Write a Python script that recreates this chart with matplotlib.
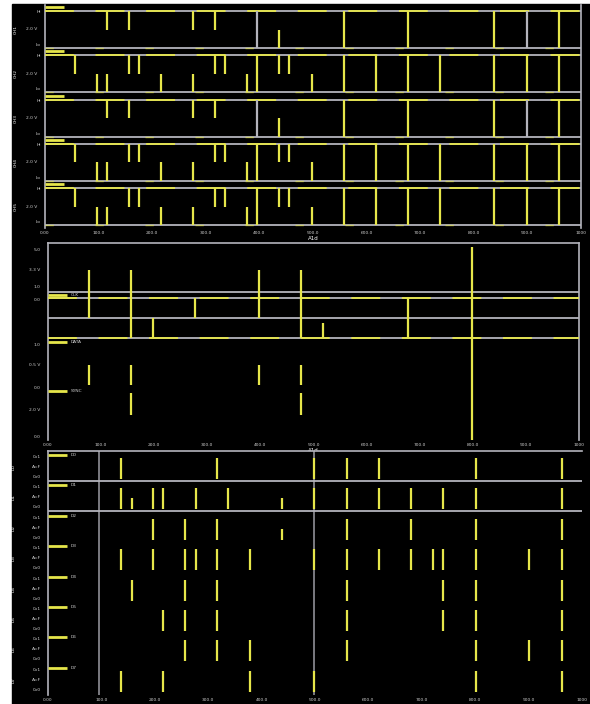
import matplotlib
matplotlib.use("Agg")
import matplotlib.pyplot as plt
from matplotlib.patches import Rectangle

# ---------------- data ----------------
# time axis ticks (shared by all panels)
tick_pos = [0, 10, 20, 30, 40, 50, 60, 70, 80, 90, 100]
tick_labels = ["0.00", "100.0", "200.0", "300.0", "400.0", "500.0",
               "600.0", "700.0", "800.0", "900.0", "1000"]

# panel 1: two edge patterns, rows use them
patA_top = [11.6, 15.7, 27.6, 31.7]
patA_low = [43.7]
patA_full = [39.6, 55.8, 67.7, 83.8, 89.9, 95.9]
patB_top = [5.6, 15.7, 17.5, 31.7, 33.6, 43.7, 45.5]
patB_low = [9.7, 11.6, 21.6, 27.6, 37.7, 49.8]
patB_full = [39.6, 55.8, 61.8, 67.7, 73.7, 83.8, 89.9, 95.9]
p1_rows = ["A", "B", "A", "B", "B"]
p1_names = ["CH1", "CH2", "CH3", "CH4", "CH5"]

# panel 2 events
p2_times = [8.2, 16.0, 20.1, 28.0, 39.9, 47.8, 51.9, 67.7, 79.7]
p2_kinds = ["a", "b", "c", "d", "a", "b", "e", "f", "g"]
p2_lower = [1, 2, 0, 0, 1, 2, 0, 0, 0]
p2_names = ["CLK", "DATA", "SYNC"]

# panel 3 events per row (long pulses) and short pulses
p3_rows = [
    [14.2, 32.1, 50.2, 56.3, 62.3, 80.4, 96.5],
    [14.2, 20.1, 22.0, 28.2, 34.1, 50.2, 56.3, 62.3, 68.3, 74.3, 80.4, 96.5],
    [20.1, 26.1, 32.1, 56.3, 68.3, 80.4, 96.5],
    [14.2, 20.1, 26.1, 28.2, 32.1, 38.2, 50.2, 56.3, 62.3, 68.3, 72.4, 74.3, 80.4, 90.3, 96.5],
    [16.2, 26.1, 32.1, 56.3, 74.3, 80.4, 96.5],
    [22.0, 26.1, 32.1, 56.3, 74.3, 80.4, 96.5],
    [26.1, 32.1, 38.2, 56.3, 80.4, 90.3, 96.5],
    [14.2, 22.0, 38.2, 50.2, 80.4, 96.5],
]
p3_short = [[], [16.2, 44.2], [44.2], [], [], [], [], []]
p3_markers = [10.1, 50.2]
p3_names = ["D0", "D1", "D2", "D3", "D4", "D5", "D6", "D7"]

# ---------------- style ----------------
YEL = "#e6e64a"
GRY = "#b4b4bc"
TXT = "#d0d0d0"
FS = 3.2

fig = plt.figure(figsize=(5.9, 7.04), dpi=100, facecolor="white")
fig.patches.append(Rectangle((12 / 590, 0), 1 - 12 / 590, 1 - 4 / 704,
                             transform=fig.transFigure, color="black", zorder=-10))


def make_ax(top_px, bot_px, left_px=45, right_px=581):
    ax = fig.add_axes([left_px / 590, 1 - bot_px / 704,
                       (right_px - left_px) / 590, (bot_px - top_px) / 704])
    ax.set_facecolor("black")
    ax.set_xlim((left_px - 45) / 5.36, (right_px - 45) / 5.36)
    ax.set_ylim(bot_px, top_px)
    for s in ax.spines.values():
        s.set_color(GRY)
        s.set_linewidth(1.2)
    lo, hi = ax.get_xlim()
    ticks = [lo + (hi - lo) * k / 10 for k in range(11)]
    ax.set_xticks(ticks)
    ax.set_xticklabels(tick_labels, fontsize=FS, color=TXT)
    ax.tick_params(axis="x", length=0, pad=2)
    ax.tick_params(axis="y", length=0)
    ax.set_yticks([])
    return ax


def bus_line(ax, y, yellow=True):
    ax.axhline(y, color=GRY, lw=1.3, zorder=2)
    if yellow:
        ax.axhline(y, color=YEL, lw=1.3, dashes=(16, 12), zorder=3)


def legend_mark(ax, y, name):
    x0 = ax.get_xlim()[0]
    ax.plot([x0, x0 + 3.6], [y, y], color=YEL, lw=2, solid_capstyle="butt", zorder=4)
    ax.text(x0 + 4.2, y, name, fontsize=FS, color=TXT, va="center", ha="left")


# ---------------- panel 1 ----------------
ax1 = make_ax(5, 228)
ax1.spines["top"].set_visible(False)
ax1.spines["bottom"].set_visible(False)
row_top0, pitch, h = 11, 44.3, 37
for i, (pat, name) in enumerate(zip(p1_rows, p1_names)):
    top = row_top0 + i * pitch
    bot = top + h
    mid = top + h / 2
    bus_line(ax1, top, True)
    bus_line(ax1, bot, False)
    ax1.axhline(bot, color=YEL, lw=1.0, dashes=(6, 30), alpha=0.6, zorder=3)
    legend_mark(ax1, top - 4, "")
    if pat == "A":
        tops, lows, fulls = patA_top, patA_low, patA_full
    else:
        tops, lows, fulls = patB_top, patB_low, patB_full
    ax1.vlines(tops, top, mid, color=YEL, lw=1.6, zorder=5)
    ax1.vlines(lows, mid, bot, color=YEL, lw=1.6, zorder=5)
    for t in fulls:
        c = GRY if t in (39.6, 89.9) and pat == "A" else YEL
        ax1.vlines(t, top, bot, color=c, lw=1.6, zorder=5)
    ax1.text(-0.8, top + 1, "Hi", fontsize=FS, color=TXT, ha="right", va="center")
    ax1.text(-1.5, mid, "2.0 V", fontsize=FS, color=TXT, ha="right", va="center")
    ax1.text(-0.8, bot - 3, "Lo", fontsize=FS, color=TXT, ha="right", va="center")
    ax1.text(-5.0, mid, name, fontsize=FS, color="white", ha="right", va="center",
             rotation=90)
ax1.set_xlabel("A1d", fontsize=4, color="white", labelpad=1)

# ---------------- panel 2 ----------------
ax2 = make_ax(243, 440, 48, 579)
ax2.spines["bottom"].set_visible(False)
ax2.axhline(292, color=GRY, lw=1.3)
bus_line(ax2, 298, True)
ax2.axhline(318, color=GRY, lw=1.3)
bus_line(ax2, 338, True)
kind_span = {"a": (270, 318), "b": (270, 338), "c": (318, 338), "d": (298, 318),
             "e": (323, 338), "f": (298, 338), "g": (247, 440)}
for t, k, n in zip(p2_times, p2_kinds, p2_lower):
    y0, y1 = kind_span[k]
    ax2.vlines(t, y0, y1, color=YEL, lw=1.6, zorder=5)
    if n >= 1:
        ax2.vlines(t, 365, 385, color=YEL, lw=1.6, zorder=5)
    if n >= 2:
        ax2.vlines(t, 393, 415, color=YEL, lw=1.6, zorder=5)
for y, name in zip([295, 342, 391], p2_names):
    legend_mark(ax2, y, name)
for y, lab in [(250, "5.0"), (270, "3.3 V"), (287, "1.0"), (300, "0.0"),
               (345, "1.0"), (365, "0.5 V"), (388, "0.0"), (410, "2.0 V"), (437, "0.0")]:
    ax2.text(-0.8, y, lab, fontsize=FS, color=TXT, ha="right", va="center")
ax2.set_xlabel("A1d", fontsize=4, color="white", labelpad=1)

# ---------------- panel 3 ----------------
ax3 = make_ax(451, 695, 48, 582)
ax3.spines["bottom"].set_visible(False)
ax3.spines["right"].set_visible(False)
r_top0, r_pitch = 451, 30.4
for y in (481, 511):
    ax3.axhline(y, color=GRY, lw=1.3)
for t in p3_markers:
    ax3.axvline(t, color=GRY, lw=1.2, alpha=0.8, zorder=1)
for i, (evs, shorts, name) in enumerate(zip(p3_rows, p3_short, p3_names)):
    top = r_top0 + i * r_pitch
    ax3.vlines(evs, top + 7, top + 28, color=YEL, lw=1.6, zorder=5)
    ax3.vlines(shorts, top + 17, top + 28, color=YEL, lw=1.6, zorder=5)
    legend_mark(ax3, top + 4, name)
    ax3.text(-0.8, top + 6, "0x1", fontsize=FS, color=TXT, ha="right", va="center")
    ax3.text(-0.8, top + 16, "A=F", fontsize=FS, color=TXT, ha="right", va="center")
    ax3.text(-0.8, top + 26, "0x0", fontsize=FS, color=TXT, ha="right", va="center")
    ax3.text(-5.5, top + 16, name, fontsize=FS, color="white", ha="right",
             va="center", rotation=90)

fig.savefig("out.png", dpi=100, facecolor=fig.get_facecolor())
